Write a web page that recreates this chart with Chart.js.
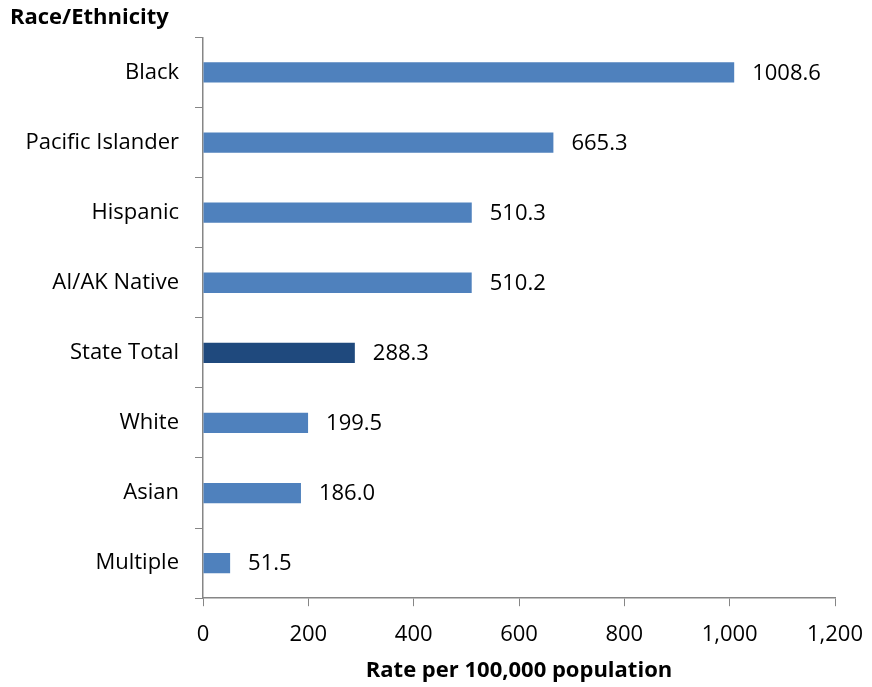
<!DOCTYPE html>
<html>
<head>
<meta charset="utf-8">
<script src="https://cdn.jsdelivr.net/npm/chart.js@4.4.1/dist/chart.umd.min.js"></script>
<style>
  html, body { margin: 0; padding: 0; background: #fff; }
  #wrap { width: 872px; height: 687px; }
</style>
</head>
<body>
<div id="wrap"><canvas id="myChart"></canvas></div>
<script>
const categories = ['Black', 'Pacific Islander', 'Hispanic', 'AI/AK Native', 'State Total', 'White', 'Asian', 'Multiple'];
const rates = [1008.6, 665.3, 510.3, 510.2, 288.3, 199.5, 186.0, 51.5];
const xTicks = [0, 200, 400, 600, 800, 1000, 1200];

const barColor = '#4F81BD';
const totalColor = '#1F497D';
const axisColor = '#868686';
const fontFamily = '"Open Sans", Lato, sans-serif';

document.addEventListener('DOMContentLoaded', function () {
  const ctx = document.getElementById('myChart').getContext('2d');

  const valueLabels = {
    id: 'valueLabels',
    afterDatasetsDraw(chart) {
      const c = chart.ctx;
      const meta = chart.getDatasetMeta(0);
      c.save();
      c.font = '22px ' + fontFamily;
      c.fillStyle = '#000';
      c.textBaseline = 'middle';
      c.textAlign = 'left';
      meta.data.forEach((bar, i) => {
        c.fillText(rates[i].toFixed(1), bar.x + 18, bar.y + 1);
      });
      c.restore();
    },
  };

  const chartConfig = {
    type: 'bar',
    data: {
      labels: categories,
      datasets: [{
        data: rates,
        backgroundColor: categories.map(c => c === 'State Total' ? totalColor : barColor),
        barPercentage: 0.29,
        categoryPercentage: 1,
      }],
    },
    options: {
      indexAxis: 'y',
      responsive: true,
      maintainAspectRatio: false,
      animation: false,
      layout: { padding: { left: 10, right: 37, top: 0, bottom: 3 } },
      scales: {
        x: {
          min: 0,
          max: 1200,
          afterBuildTicks(scale) {
            scale.ticks = xTicks.map(v => ({ value: v }));
          },
          afterFit(scale) {
            scale.paddingLeft = 0;
            scale.paddingRight = 0;
          },
          ticks: {
            color: '#000',
            font: { family: fontFamily, size: 22 },
            padding: 15,
            callback: v => v.toLocaleString('en-US'),
          },
          grid: { drawOnChartArea: false, drawTicks: true, tickLength: 8, color: axisColor },
          border: { color: axisColor, width: 1.5 },
          title: {
            display: true,
            text: 'Rate per 100,000 population',
            color: '#000',
            font: { family: fontFamily, size: 22, weight: 'bold' },
            padding: { top: -5, bottom: 0 },
          },
        },
        y: {
          afterFit(scale) { scale.width = 193; },
          ticks: {
            color: '#000',
            font: { family: fontFamily, size: 22 },
            padding: 16,
          },
          grid: { drawOnChartArea: false, drawTicks: true, tickLength: 8, color: axisColor, offset: true },
          border: { color: axisColor, width: 1.5 },
        },
      },
      plugins: {
        legend: { display: false },
        tooltip: { enabled: false },
        title: {
          display: true,
          text: 'Race/Ethnicity',
          align: 'start',
          color: '#000',
          font: { family: fontFamily, size: 22, weight: 'bold' },
          padding: { top: 5, bottom: 6 },
        },
      },
    },
    plugins: [valueLabels],
  };

  new Chart(ctx, chartConfig);
});
</script>
</body>
</html>
